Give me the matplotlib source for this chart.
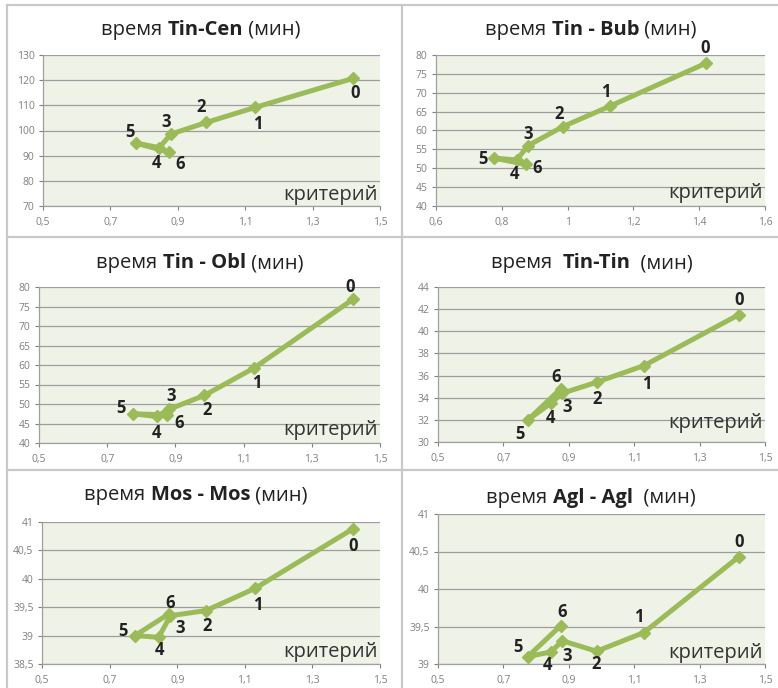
import matplotlib
matplotlib.use("Agg")
import matplotlib.pyplot as plt
from matplotlib.lines import Line2D

# ---------------- data ----------------
point_labels = ["0", "1", "2", "3", "4", "5", "6"]
criterion = [1.42, 1.13, 0.985, 0.88, 0.845, 0.775, 0.875]

titles = [
    ("время ", "Tin-Cen", " (мин)"),
    ("время ", "Tin - Bub", " (мин)"),
    ("время ", "Tin - Obl", " (мин)"),
    ("время  ", "Tin-Tin", "  (мин)"),
    ("время ", "Mos - Mos", " (мин)"),
    ("время ", "Agl - Agl", "  (мин)"),
]

tin_cen = [120.7, 109.2, 103.2, 98.6, 93.2, 95.0, 91.4]
tin_bub = [77.8, 66.5, 61.0, 56.0, 52.2, 52.7, 51.0]
tin_obl = [76.8, 59.2, 52.2, 48.6, 46.8, 47.5, 47.2]
tin_tin = [41.5, 36.9, 35.4, 34.4, 33.5, 32.0, 34.8]
mos_mos = [40.88, 39.83, 39.44, 39.35, 38.97, 39.00, 39.38]
agl_agl = [40.43, 39.42, 39.17, 39.31, 39.16, 39.10, 39.51]
series = [tin_cen, tin_bub, tin_obl, tin_tin, mos_mos, agl_agl]

x_ticks = [
    [0.5, 0.7, 0.9, 1.1, 1.3, 1.5],
    [0.6, 0.8, 1.0, 1.2, 1.4, 1.6],
    [0.5, 0.7, 0.9, 1.1, 1.3, 1.5],
    [0.5, 0.7, 0.9, 1.1, 1.3, 1.5],
    [0.5, 0.7, 0.9, 1.1, 1.3, 1.5],
    [0.5, 0.7, 0.9, 1.1, 1.3, 1.5],
]
y_ticks = [
    [70, 80, 90, 100, 110, 120, 130],
    [40, 45, 50, 55, 60, 65, 70, 75, 80],
    [40, 45, 50, 55, 60, 65, 70, 75, 80],
    [30, 32, 34, 36, 38, 40, 42, 44],
    [38.5, 39, 39.5, 40, 40.5, 41],
    [39, 39.5, 40, 40.5, 41],
]

# label offsets (pixels) for point labels, per panel
label_offsets = [
    [(2, -15), (2, -17), (-5, 15), (-5, 12), (-3, -15), (-6, 11), (11, -12)],
    [(-1, 15), (-5, 14), (-4, 13), (0, 12), (-2, -14), (-11, -1), (11, -4)],
    [(-3, 12), (3, -15), (3, -15), (3, 13), (0, -17), (-12, 6), (12, -8)],
    [(0, 15), (3, -18), (0, -17), (5, -14), (0, -15), (-8, -14), (-5, 12)],
    [(0, -17), (3, -17), (1, -15), (10, -12), (1, -13), (-12, 5), (1, 11)],
    [(0, 15), (-5, 15), (-1, -13), (5, -15), (-3, -13), (-10, 9), (2, 14)],
]

# ---------------- layout (pixel boxes) ----------------
W, H = 778, 688
boxes = [
    (43, 380, 55, 206),
    (436, 765, 55, 206),
    (39, 380, 287, 443),
    (438, 765, 287, 442),
    (42, 380, 522, 664),
    (438, 765, 514, 664),
]
title_pos = [(201, 30), (591, 30), (200, 263), (592, 263), (196, 495), (591, 498)]
krit_up = [11, 13, 13, 19, 12, 11]

LINE_C = "#9bbb59"
BG = "#eef2e7"
GRID_C = "#9d9d9d"
TICK_C = "#808080"
FONT = ["Open Sans", "DejaVu Sans"]

plt.rcParams["font.family"] = FONT

fig = plt.figure(figsize=(W / 100, H / 100), dpi=100)
fig.patch.set_facecolor("white")

border_c = "#c9c9c9"
for (x0, y0, x1, y1) in [(7, 5, 7, 688), (402, 5, 402, 688), (7, 5, 778, 5),
                          (7, 237, 778, 237), (7, 470, 778, 470)]:
    fig.add_artist(Line2D([x0 / W, x1 / W], [1 - y0 / H, 1 - y1 / H],
                          color=border_c, lw=1.6, transform=fig.transFigure))


def fmt(v):
    return ("%g" % v).replace(".", ",")


renderer = fig.canvas.get_renderer()

for i in range(6):
    l, r, t, b = boxes[i]
    ax = fig.add_axes([l / W, 1 - b / H, (r - l) / W, (b - t) / H])
    ax.set_facecolor(BG)
    xt, yt = x_ticks[i], y_ticks[i]
    ax.set_xlim(xt[0], xt[-1])
    ax.set_ylim(yt[0], yt[-1])
    ax.set_xticks(xt)
    ax.set_yticks(yt)
    ax.set_xticklabels([fmt(v) for v in xt])
    ax.set_yticklabels([fmt(v) for v in yt])
    ax.tick_params(axis="both", labelsize=7.5, colors=TICK_C, length=3, width=0.8,
                   direction="out", pad=3)
    ax.tick_params(axis="x", pad=5)
    for sp in ["top", "right"]:
        ax.spines[sp].set_visible(False)
    for sp in ["left", "bottom"]:
        ax.spines[sp].set_color("#a0a0a0")
        ax.spines[sp].set_linewidth(0.9)
    ax.yaxis.grid(True, color=GRID_C, lw=0.9)
    ax.set_axisbelow(True)

    ys = series[i]
    ax.plot(criterion, ys, color=LINE_C, lw=3.6, marker="D", ms=6,
            markerfacecolor=LINE_C, markeredgecolor=LINE_C, solid_joinstyle="round",
            clip_on=False, zorder=3)
    for j, lab in enumerate(point_labels):
        dx, dy = label_offsets[i][j]
        ax.annotate(lab, (criterion[j], ys[j]), xytext=(dx, dy),
                    textcoords="offset pixels", ha="center", va="center",
                    fontsize=12, fontweight="bold", color="#222222", zorder=4)

    ax.annotate("критерий", (1, 0), xycoords="axes fraction",
                xytext=(-2, krit_up[i]), textcoords="offset pixels",
                ha="right", va="center", fontsize=14.5, color="#333333")

    p1, p2, p3 = titles[i]
    tx, ty = title_pos[i]
    parts = [(p1, "normal"), (p2, "bold"), (p3, "normal")]
    widths = []
    tmp = []
    for s, w in parts:
        tt = fig.text(0, 0, s, fontsize=14.5, fontweight=w)
        bb = tt.get_window_extent(renderer)
        widths.append(bb.width)
        tmp.append(tt)
    total = sum(widths)
    x = tx - total / 2
    for tt, wdt in zip(tmp, widths):
        tt.set_position((x / W, 1 - ty / H))
        tt.set_va("center")
        tt.set_ha("left")
        tt.set_color("#222222")
        x += wdt

fig.savefig("out.png", dpi=100, facecolor="white")
